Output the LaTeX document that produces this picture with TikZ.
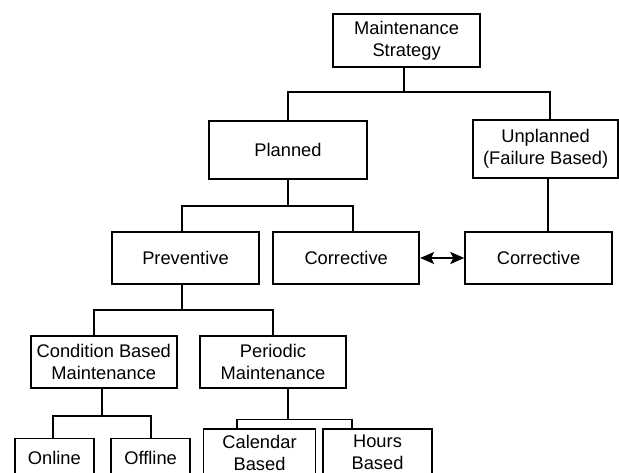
\documentclass[tikz,border=0pt]{standalone}
\usepackage{fontspec}
\setmainfont{Liberation Sans}
\usetikzlibrary{arrows.meta}
\begin{document}
\begin{tikzpicture}[x=1pt,y=-1pt,
  box/.style={draw, line width=1.9pt, align=center, inner sep=0pt,
    font=\fontsize{18.3}{22}\selectfont},
  link/.style={line width=1.9pt},
  dbl/.style={line width=1.9pt, {Stealth[length=14pt,width=12pt,inset=3pt]}-{Stealth[length=14pt,width=12pt,inset=3pt]}}]
\useasboundingbox (0,0) rectangle (619,473);
\fill[white] (0,0) rectangle (619,473);
\clip (0,0) rectangle (619,473);
\node[box, minimum width=147.5pt, minimum height=53pt] (ms) at (406.6,40.5) {Maintenance\\Strategy};
\node[box, minimum width=157.5pt, minimum height=58pt] (pl) at (288,150) {Planned};
\node[box, minimum width=144.5pt, minimum height=58pt] (un) at (545.6,149) {Unplanned\\(Failure Based)};
\node[box, minimum width=147.5pt, minimum height=52pt] (pv) at (185.5,258) {Preventive};
\node[box, minimum width=146pt, minimum height=52pt] (c1) at (346.2,258) {Corrective};
\node[box, minimum width=146.5pt, minimum height=52pt] (c2) at (538.5,258) {Corrective};
\node[box, minimum width=146pt, minimum height=52pt] (cb) at (103.8,362) {Condition Based\\Maintenance};
\node[box, minimum width=145.5pt, minimum height=52pt] (pm) at (273,362) {Periodic\\Maintenance};
\node[box, minimum width=78.5pt, minimum height=38pt] (on) at (54.3,457.5) {Online};
\node[box, minimum width=78.5pt, minimum height=38pt] (off) at (150.6,457.5) {Offline};
\node[box, minimum width=112pt, minimum height=47pt] (cal) at (259.5,452.5) {Calendar\\Based};
\node[box, minimum width=109.5pt, minimum height=47pt] (hrs) at (377.5,452.5) {Hours\\Based};
% buses
\coordinate (b1) at (404.3,92);
\coordinate (b2) at (287.8,206);
\coordinate (b3) at (182,310);
\coordinate (b4) at (101.8,416);
\coordinate (b5) at (287.8,419.5);
\draw[link] (ms.south -| b1) -- (b1);
\draw[link] (pl.north -| 287.8,0) |- (b1) -| (un.north -| 550.4,0);
\draw[link] (pl.south -| b2) -- (b2);
\draw[link] (pv.north -| 182.4,0) |- (b2) -| (c1.north -| 352.6,0);
\draw[link] (un.south -| 548,0) -- (c2.north -| 548,0);
\draw[link] (pv.south -| b3) -- (b3);
\draw[link] (cb.north -| 94,0) |- (b3) -| (pm.north);
\draw[link] (cb.south -| b4) -- (b4);
\draw[link] (on.north -| 53.3,0) |- (b4) -| (off.north);
\draw[link] (pm.south -| b5) -- (b5);
\draw[link] (cal.north -| 236.9,0) |- (b5) -| (hrs.north -| 351.8,0);
\draw[dbl] (c1.east) -- (c2.west);
\end{tikzpicture}
\end{document}
